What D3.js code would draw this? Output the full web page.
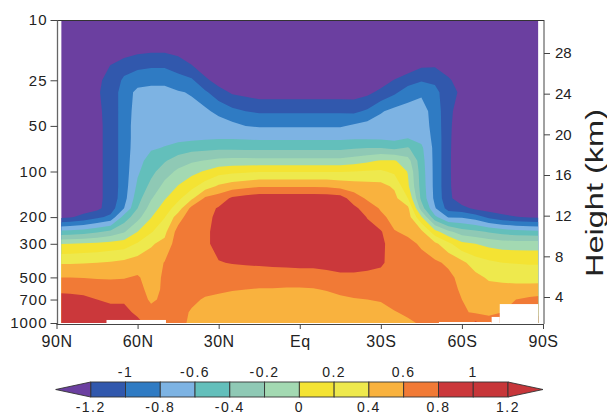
<!DOCTYPE html>
<html><head><meta charset="utf-8">
<script src="https://cdn.jsdelivr.net/npm/d3@7"></script>
<style>
body{margin:0;background:#fff}
text{font-family:"Liberation Sans",Arial,Helvetica,sans-serif;fill:#222}
</style>
</head><body>
<svg id="c" width="607" height="414"></svg>
<script>
// ---------------- data ----------------
const lats = [90,85,80,75,70,65,60,55,50,45,40,35,30,25,20,15,10,5,0,-5,-10,-15,-20,-25,-30,-35,-40,-45,-50,-55,-60,-65,-70,-75,-80,-85,-90];
const levels = [10,15,20,25,30,40,50,60,70,85,100,125,150,175,200,250,300,400,500,600,700,850,1000];
// one row per latitude (90N -> 90S), values at each pressure level (10 -> 1000 hPa)
const anomaly = [
[-1.8,-1.75,-1.7,-1.65,-1.6,-1.55,-1.5,-1.48,-1.45,-1.42,-1.4,-1.37,-1.34,-1.3,-1.25,-0.55,-0.01,0.38,0.6,0.77,0.85,0.9,0.92],
[-1.8,-1.74,-1.68,-1.62,-1.58,-1.53,-1.49,-1.46,-1.44,-1.41,-1.39,-1.36,-1.33,-1.29,-1.22,-0.53,0.0,0.38,0.6,0.77,0.84,0.9,0.92],
[-1.8,-1.72,-1.65,-1.6,-1.55,-1.5,-1.46,-1.44,-1.42,-1.4,-1.38,-1.35,-1.32,-1.28,-1.15,-0.5,0.02,0.39,0.59,0.76,0.83,0.88,0.9],
[-1.8,-1.7,-1.45,-1.23,-1.22,-1.24,-1.25,-1.25,-1.25,-1.25,-1.25,-1.25,-1.25,-1.25,-1.05,-0.43,0.04,0.4,0.58,0.72,0.8,0.86,0.88],
[-1.8,-1.5,-1.19,-1.15,-1.13,-1.13,-1.13,-1.13,-1.13,-1.13,-1.13,-1.13,-1.13,-1.1,-0.95,-0.35,0.07,0.42,0.58,0.7,0.78,0.84,0.86],
[-1.8,-1.35,-1.1,-0.96,-0.9,-0.9,-0.9,-0.9,-0.9,-0.9,-0.9,-0.9,-0.88,-0.8,-0.52,-0.22,0.1,0.45,0.59,0.68,0.78,0.84,0.86],
[-1.8,-1.3,-1.05,-0.88,-0.75,-0.72,-0.7,-0.7,-0.69,-0.66,-0.63,-0.56,-0.48,-0.4,-0.27,0.0,0.22,0.5,0.62,0.66,0.7,0.77,0.84],
[-1.8,-1.28,-1.03,-0.85,-0.74,-0.71,-0.69,-0.66,-0.62,-0.53,-0.46,-0.34,-0.22,-0.11,-0.01,0.18,0.38,0.48,0.52,0.54,0.57,0.66,0.74],
[-1.8,-1.28,-1.03,-0.85,-0.74,-0.7,-0.68,-0.65,-0.59,-0.42,-0.29,-0.14,-0.02,0.09,0.19,0.35,0.45,0.61,0.63,0.63,0.64,0.66,0.68],
[-1.8,-1.32,-1.08,-0.93,-0.78,-0.72,-0.7,-0.66,-0.52,-0.3,-0.16,0.01,0.15,0.3,0.5,0.68,0.72,0.72,0.7,0.68,0.67,0.67,0.68],
[-1.8,-1.42,-1.19,-0.97,-0.82,-0.73,-0.7,-0.65,-0.47,-0.23,-0.06,0.14,0.36,0.66,0.74,0.76,0.76,0.75,0.72,0.68,0.64,0.58,0.55],
[-1.8,-1.5,-1.35,-1.15,-0.97,-0.75,-0.68,-0.63,-0.46,-0.19,0.02,0.3,0.63,0.72,0.74,0.76,0.76,0.75,0.72,0.65,0.58,0.52,0.5],
[-1.8,-1.58,-1.45,-1.3,-1.11,-0.87,-0.67,-0.62,-0.44,-0.15,0.12,0.43,0.7,0.82,0.85,0.87,0.87,0.79,0.7,0.63,0.56,0.5,0.47],
[-1.8,-1.6,-1.5,-1.38,-1.23,-0.95,-0.74,-0.62,-0.44,-0.13,0.15,0.5,0.83,0.9,0.94,0.96,0.94,0.81,0.7,0.61,0.55,0.49,0.46],
[-1.8,-1.62,-1.52,-1.4,-1.26,-1.0,-0.8,-0.63,-0.45,-0.13,0.17,0.54,0.88,0.94,0.96,0.97,0.96,0.82,0.7,0.6,0.54,0.48,0.45],
[-1.8,-1.62,-1.52,-1.42,-1.3,-1.03,-0.82,-0.64,-0.45,-0.14,0.19,0.58,0.92,0.95,0.97,0.97,0.96,0.83,0.7,0.59,0.53,0.48,0.45],
[-1.8,-1.62,-1.52,-1.42,-1.3,-1.03,-0.82,-0.64,-0.45,-0.14,0.19,0.58,0.92,0.95,0.97,0.97,0.96,0.84,0.7,0.59,0.53,0.48,0.45],
[-1.8,-1.62,-1.51,-1.41,-1.3,-1.03,-0.82,-0.64,-0.45,-0.14,0.19,0.58,0.92,0.95,0.97,0.97,0.96,0.85,0.7,0.58,0.52,0.48,0.45],
[-1.8,-1.62,-1.5,-1.4,-1.3,-1.03,-0.82,-0.64,-0.45,-0.14,0.19,0.58,0.92,0.95,0.97,0.97,0.96,0.86,0.7,0.58,0.52,0.48,0.45],
[-1.8,-1.62,-1.5,-1.4,-1.3,-1.03,-0.82,-0.64,-0.45,-0.14,0.19,0.58,0.92,0.95,0.97,0.97,0.96,0.86,0.7,0.59,0.53,0.48,0.45],
[-1.8,-1.62,-1.5,-1.4,-1.3,-1.03,-0.82,-0.64,-0.45,-0.14,0.19,0.57,0.91,0.95,0.97,0.97,0.96,0.88,0.72,0.61,0.55,0.49,0.46],
[-1.8,-1.62,-1.5,-1.4,-1.3,-1.03,-0.82,-0.64,-0.45,-0.14,0.19,0.53,0.89,0.94,0.96,0.96,0.95,0.9,0.75,0.64,0.57,0.5,0.47],
[-1.8,-1.62,-1.5,-1.4,-1.3,-1.04,-0.77,-0.63,-0.42,-0.1,0.2,0.5,0.7,0.85,0.92,0.95,0.94,0.9,0.75,0.66,0.59,0.52,0.48],
[-1.8,-1.6,-1.48,-1.37,-1.25,-0.97,-0.72,-0.63,-0.4,-0.04,0.22,0.48,0.57,0.7,0.79,0.88,0.9,0.86,0.75,0.67,0.6,0.53,0.49],
[-1.8,-1.57,-1.45,-1.3,-1.15,-0.82,-0.7,-0.64,-0.4,0.02,0.23,0.46,0.54,0.58,0.64,0.82,0.86,0.83,0.74,0.67,0.61,0.56,0.52],
[-1.8,-1.52,-1.4,-1.19,-1.04,-0.74,-0.7,-0.66,-0.44,0.02,0.16,0.37,0.46,0.5,0.54,0.61,0.67,0.72,0.73,0.71,0.66,0.59,0.55],
[-1.8,-1.48,-1.33,-1.09,-0.9,-0.72,-0.68,-0.61,-0.38,-0.12,-0.01,0.04,0.2,0.45,0.5,0.57,0.64,0.68,0.7,0.7,0.68,0.63,0.57],
[-1.8,-1.42,-1.23,-1.02,-0.83,-0.72,-0.7,-0.66,-0.56,-0.52,-0.5,-0.48,-0.45,-0.3,0.02,0.45,0.58,0.65,0.68,0.68,0.67,0.65,0.62],
[-1.8,-1.42,-1.22,-1.05,-0.92,-0.88,-0.87,-0.86,-0.86,-0.86,-0.86,-0.86,-0.85,-0.78,-0.55,0.08,0.45,0.63,0.66,0.67,0.67,0.65,0.62],
[-1.8,-1.48,-1.3,-1.17,-1.16,-1.15,-1.15,-1.15,-1.15,-1.15,-1.15,-1.15,-1.14,-1.08,-0.82,-0.15,0.25,0.57,0.64,0.65,0.64,0.63,0.62],
[-1.8,-1.55,-1.45,-1.3,-1.22,-1.3,-1.35,-1.38,-1.4,-1.42,-1.42,-1.4,-1.35,-1.13,-0.82,-0.3,0.05,0.45,0.55,0.58,0.6,0.62,0.64],
[-1.8,-1.7,-1.6,-1.55,-1.5,-1.48,-1.47,-1.46,-1.46,-1.45,-1.45,-1.43,-1.38,-1.25,-0.9,-0.35,0.0,0.3,0.46,0.5,0.52,0.58,0.84],
[-1.8,-1.72,-1.65,-1.6,-1.55,-1.52,-1.5,-1.49,-1.48,-1.47,-1.46,-1.44,-1.4,-1.3,-1.05,-0.42,-0.06,0.24,0.37,0.47,0.52,0.55,0.7],
[-1.8,-1.72,-1.65,-1.6,-1.56,-1.53,-1.51,-1.5,-1.49,-1.48,-1.47,-1.45,-1.42,-1.33,-1.14,-0.48,-0.09,0.2,0.35,0.46,0.55,0.6,0.6],
[-1.8,-1.73,-1.66,-1.61,-1.57,-1.54,-1.52,-1.51,-1.5,-1.49,-1.48,-1.46,-1.43,-1.35,-1.19,-0.52,-0.1,0.19,0.33,0.47,0.6,0.72,0.76],
[-1.8,-1.73,-1.66,-1.61,-1.57,-1.54,-1.52,-1.51,-1.5,-1.49,-1.48,-1.46,-1.43,-1.35,-1.22,-0.54,-0.1,0.18,0.32,0.48,0.64,0.78,0.8],
[-1.8,-1.73,-1.66,-1.61,-1.57,-1.54,-1.52,-1.51,-1.5,-1.49,-1.48,-1.46,-1.43,-1.35,-1.24,-0.55,-0.1,0.18,0.32,0.49,0.67,0.8,0.82]
];
const thresholds = [-1.2,-1,-0.8,-0.6,-0.4,-0.2,0,0.2,0.4,0.6,0.8,1,1.2];
// colour of each band: below -1.2, then [t_k, t_k+1), ..., above 1.2
const bandColors = ["#6b3fa0","#3158ad","#2f7bc3","#7db3e3","#63bfbb","#8fc9b5","#a3d9b2",
                    "#f4e333","#eee94d","#f9b23e","#f17a36","#cb383b","#c73639","#c7363a"];
const pressureTicks = [10,25,50,100,200,300,500,700,1000];
const heightTicks = [4,8,12,16,20,24,28];
const latTicks = [90,60,30,0,-30,-60,-90];
const latLabels = ["90N","60N","30N","Eq","30S","60S","90S"];
// below-ground (missing data) segments: [lat from, lat to, surface pressure hPa]
const groundMask = [[71.5,49.5,955],[-51.5,-71,985],[-71,-74,912],[-74,-90,750]];

// ---------------- drawing ----------------
const svg = d3.select("#c");
const x = d3.scaleLinear().domain([90,-90]).range([56.5,543]);
const y = d3.scaleLog().domain([10,1000]).range([20,323]);
const yH = d3.scaleLinear().domain([4,28]).range([297,53]);

const nx = lats.length, ny = levels.length;
const values = new Array(nx*ny);
for (let j=0;j<ny;j++) for (let i=0;i<nx;i++) values[j*nx+i] = anomaly[i][j];
const contours = d3.contours().size([nx,ny]).smooth(true).thresholds(thresholds)(values);
const latX = lats.map(d=>x(d)), levY = levels.map(d=>y(d));
function interp(arr,g){
  const f = Math.max(0, Math.min(arr.length-1, g-0.5));
  const i = Math.min(arr.length-2, Math.floor(f));
  const t = f-i;
  return arr[i]+(arr[i+1]-arr[i])*t;
}
const proj = d3.geoTransform({point(px,py){ this.stream.point(interp(latX,px), interp(levY,py)); }});
const path = d3.geoPath(proj);

svg.append("clipPath").attr("id","plotclip").append("rect")
  .attr("x",x(88.2)).attr("y",y(10)).attr("width",x(-88.2)-x(88.2)).attr("height",y(1000)-y(10));
const g = svg.append("g").attr("clip-path","url(#plotclip)");
g.append("rect").attr("x",x(90)).attr("y",y(10)).attr("width",x(-90)-x(90)).attr("height",y(1000)-y(10))
  .attr("fill",bandColors[0]);
g.selectAll("path.band").data(contours).join("path").attr("class","band")
  .attr("d",d=>path(d)).attr("fill",(d,k)=>bandColors[k+1]);
g.selectAll("rect.ground").data(groundMask).join("rect").attr("class","ground")
  .attr("x",d=>x(d[0])).attr("width",d=>x(d[1])-x(d[0]))
  .attr("y",d=>y(d[2])).attr("height",d=>y(1000)-y(d[2])+2).attr("fill","#fff");

// frame
svg.append("line").attr("x1",57.5).attr("x2",544).attr("y1",20.5).attr("y2",20.5).attr("stroke","#333");
svg.append("line").attr("x1",57.5).attr("x2",57.5).attr("y1",20).attr("y2",324).attr("stroke","#666").attr("stroke-width",1.3);
svg.append("line").attr("x1",544).attr("x2",544).attr("y1",20).attr("y2",324).attr("stroke","#444");

const axL = svg.append("g").attr("transform","translate(57.5,0)")
  .call(d3.axisLeft(y).tickValues(pressureTicks).tickFormat(d3.format("d")).tickSize(7).tickPadding(3));
axL.select(".domain").remove();
axL.selectAll("line").attr("stroke","#444");
axL.selectAll("text").style("font-size","15px").style("letter-spacing","1px").attr("fill","#222");

const axB = svg.append("g").attr("transform","translate(0,324)")
  .call(d3.axisBottom(x).tickValues(latTicks).tickFormat((d,i)=>latLabels[i]).tickSize(5).tickPadding(7));
axB.select(".domain").attr("d",`M${x(90)},0.5H${x(-90)}`).attr("stroke","#444");
axB.selectAll("line").attr("stroke","#444");
axB.selectAll("text").style("font-size","16px").style("letter-spacing","0.5px").attr("fill","#222");

const axR = svg.append("g").attr("transform","translate(544,0)")
  .call(d3.axisRight(yH).tickValues(heightTicks).tickSize(6).tickPadding(5));
axR.select(".domain").remove();
axR.selectAll("line").attr("stroke","#444");
axR.selectAll("text").style("font-size","15px").attr("fill","#222");

svg.append("text").attr("transform","translate(603,193) rotate(-90)")
  .attr("text-anchor","middle").style("font-size","23px")
  .attr("textLength",168).attr("lengthAdjust","spacingAndGlyphs").text("Height (km)");

// colour bar
const cb = d3.scaleLinear().domain([thresholds[0],thresholds[thresholds.length-1]]).range([90.7,508]);
const cbY = 382, cbH = 15;
const cbG = svg.append("g");
cbG.selectAll("rect").data(d3.pairs(thresholds)).join("rect")
  .attr("x",d=>cb(d[0])).attr("width",d=>cb(d[1])-cb(d[0]))
  .attr("y",cbY).attr("height",cbH)
  .attr("fill",(d,i)=>bandColors[i+1]).attr("stroke","#333").attr("stroke-width",0.9);
const x0 = cb(thresholds[0]), x1 = cb(thresholds[thresholds.length-1]);
cbG.append("path").attr("d",`M${x0},${cbY}L${x0-35},${cbY+cbH/2}L${x0},${cbY+cbH}Z`)
  .attr("fill",bandColors[0]).attr("stroke","#333").attr("stroke-width",0.9);
cbG.append("path").attr("d",`M${x1},${cbY}L${x1+35},${cbY+cbH/2}L${x1},${cbY+cbH}Z`)
  .attr("fill",bandColors[bandColors.length-1]).attr("stroke","#333").attr("stroke-width",0.9);
cbG.selectAll("text.lab").data(thresholds).join("text").attr("class","lab")
  .attr("x",d=>cb(d)).attr("y",(d,i)=> i%2 ? 377 : 412)
  .attr("text-anchor","middle").style("font-size","14px").style("letter-spacing","1.5px")
  .text(d=>String(d));
</script>
</body></html>
